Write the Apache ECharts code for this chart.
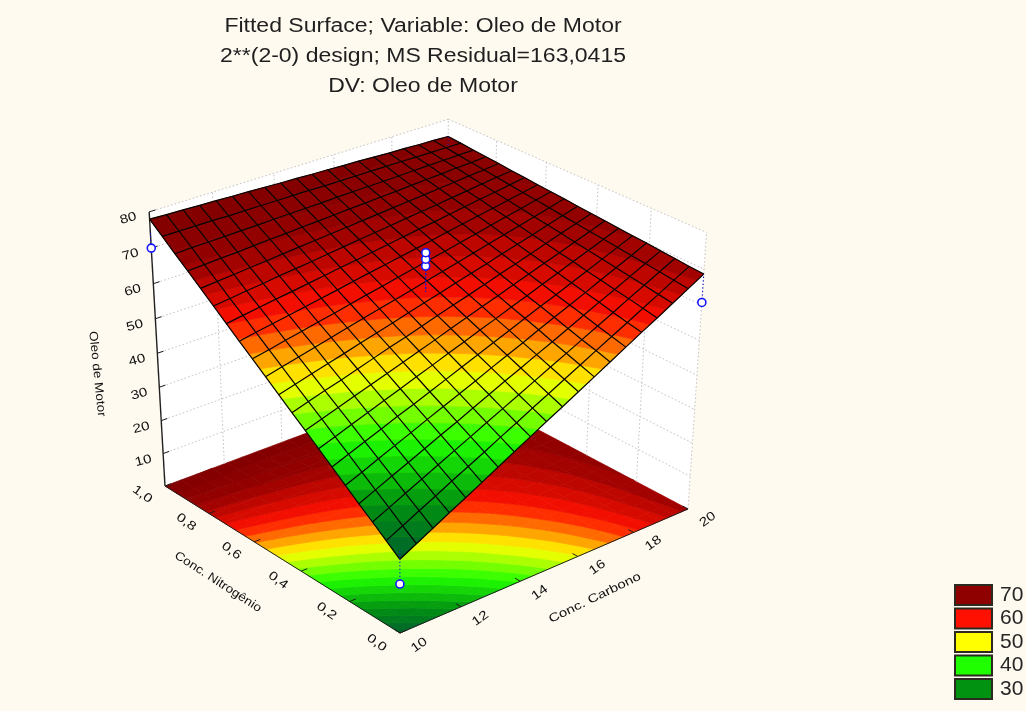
<!DOCTYPE html>
<html><head><meta charset="utf-8">
<style>html,body{margin:0;padding:0;background:#fffaf0}#c{width:1026px;height:711px}</style>
<script src="https://cdn.jsdelivr.net/npm/echarts@6/dist/echarts.min.js"></script>
</head><body><div id="c"></div>
<script>
const titleLines = ['Fitted Surface; Variable: Oleo de Motor','2**(2-0) design; MS Residual=163,0415','DV: Oleo de Motor'];
const carbonTicks = [10,12,14,16,18,20];
const nitrogenTicks = [0,0.2,0.4,0.6,0.8,1.0];
const nitrogenTickLabels = ['0,0','0,2','0,4','0,6','0,8','1,0'];
const oilTicks = [10,20,30,40,50,60,70,80];
const legendLabels = ['70','60','50','40','30'];
const legendColors = ['#8f0000','#ff1000','#ffff00','#20ff00','#009210'];
const bandValues = [20,30,40,50,60,70,80];
const bandColors = ['#005a34','#009010','#20ff00','#ffff00','#ff1000','#950000','#7a0000'];
const pointsCarbon = [10,20,15,15,15,10,20];
const pointsNitrogen = [1,0,0.5,0.5,0.5,0,1];
const pointsOil = [70,60.7,67.9,69.8,71.6,14.3,72.5];
const pointsStemEnd = [75,68.6,60.8,60.8,60.8,24,75];
const pointsHidden = [0,0,0,0,0,0,1];
// fitted surface: one row per nitrogen step (0 → 1), one column per carbon step (10 → 20)
const surfaceRows = [
[21.4,23.9,26.4,28.9,31.3,33.8,36.3,38.8,41.3,43.8,46.2,48.7,51.2,53.7,56.2,58.7,61.1,63.6,66.1,68.6],
[24.4,26.7,29.1,31.4,33.8,36.1,38.4,40.8,43.1,45.5,47.8,50.2,52.5,54.9,57.2,59.5,61.9,64.2,66.6,68.9],
[27.4,29.6,31.8,34.0,36.2,38.4,40.6,42.8,45.0,47.2,49.4,51.6,53.8,56.0,58.2,60.4,62.7,64.9,67.1,69.3],
[30.3,32.4,34.5,36.5,38.6,40.7,42.7,44.8,46.9,49.0,51.0,53.1,55.1,57.2,59.3,61.4,63.4,65.5,67.6,69.6],
[33.3,35.2,37.2,39.1,41.0,43.0,44.9,46.8,48.7,50.7,52.6,54.5,56.5,58.4,60.3,62.2,64.2,66.1,68.0,70.0],
[36.3,38.1,39.9,41.7,43.5,45.2,47.0,48.8,50.6,52.4,54.2,56.0,57.8,59.6,61.3,63.1,64.9,66.7,68.5,70.3],
[39.3,40.9,42.6,44.2,45.9,47.5,49.2,50.8,52.5,54.1,55.8,57.4,59.1,60.7,62.4,64.0,65.7,67.3,69.0,70.6],
[42.3,43.8,45.3,46.8,48.3,49.8,51.3,52.8,54.3,55.9,57.4,58.9,60.4,61.9,63.4,64.9,66.4,67.9,69.4,71.0],
[45.2,46.6,48.0,49.3,50.7,52.1,53.5,54.8,56.2,57.6,59.0,60.3,61.7,63.1,64.4,65.8,67.2,68.6,69.9,71.3],
[48.2,49.4,50.7,51.9,53.1,54.4,55.6,56.8,58.1,59.3,60.5,61.8,63.0,64.2,65.5,66.7,67.9,69.2,70.4,71.6],
[51.2,52.3,53.4,54.5,55.6,56.7,57.8,58.9,59.9,61.0,62.1,63.2,64.3,65.4,66.5,67.6,68.7,69.8,70.9,72.0],
[54.2,55.1,56.1,57.0,58.0,58.9,59.9,60.9,61.8,62.8,63.7,64.7,65.6,66.6,67.5,68.5,69.5,70.4,71.4,72.3],
[57.1,58.0,58.8,59.6,60.4,61.2,62.0,62.9,63.7,64.5,65.3,66.1,66.9,67.8,68.6,69.4,70.2,71.0,71.8,72.6],
[60.1,60.8,61.5,62.2,62.8,63.5,64.2,64.9,65.5,66.2,66.9,67.6,68.3,68.9,69.6,70.3,71.0,71.6,72.3,73.0],
[63.1,63.6,64.2,64.7,65.3,65.8,66.3,66.9,67.4,68.0,68.5,69.0,69.6,70.1,70.6,71.2,71.7,72.3,72.8,73.3],
[66.1,66.5,66.9,67.3,67.7,68.1,68.5,68.9,69.3,69.7,70.1,70.5,70.9,71.3,71.7,72.1,72.5,72.9,73.3,73.7],
[69.1,69.3,69.6,69.8,70.1,70.4,70.6,70.9,71.1,71.4,71.7,71.9,72.2,72.4,72.7,73.0,73.2,73.5,73.7,74.0],
[72.0,72.2,72.3,72.4,72.5,72.6,72.8,72.9,73.0,73.1,73.3,73.4,73.5,73.6,73.7,73.9,74.0,74.1,74.2,74.3],
[75.0,75.0,75.0,75.0,74.9,74.9,74.9,74.9,74.9,74.9,74.8,74.8,74.8,74.8,74.8,74.8,74.7,74.7,74.7,74.7],
[78.0,77.8,77.7,77.5,77.4,77.2,77.1,76.9,76.7,76.6,76.4,76.3,76.1,76.0,75.8,75.6,75.5,75.3,75.2,75.0]
];

/* ---- camera: a projective map from the unit cube to the chart plane ---- */
const CARBON_MIN = 10, CARBON_SPAN = 10, OIL_MAX = 80;
const camFloor = {A:[400,633],B:[688,509],C:[165,486],D:[446,381]};
const camTop = [{p:[0,1],s:[150,214]},{p:[1,0],s:[705,236]},{p:[1,1],s:[449,114]}];
const cam = (function(){
  const {A,B,C,D} = camFloor;
  const dx1=B[0]-D[0],dx2=C[0]-D[0],sx=A[0]-B[0]+D[0]-C[0];
  const dy1=B[1]-D[1],dy2=C[1]-D[1],sy=A[1]-B[1]+D[1]-C[1];
  const den=dx1*dy2-dx2*dy1;
  const g=(sx*dy2-dx2*sy)/den,h=(dx1*sy-sx*dy1)/den;
  const a=B[0]-A[0]+g*B[0],b=C[0]-A[0]+h*C[0],d=A[0];
  const e=B[1]-A[1]+g*B[1],f=C[1]-A[1]+h*C[1],k=A[1];
  const rows=camTop.map(t=>{
    const w0=g*t.p[0]+h*t.p[1]+1;
    return {sx:t.s[0],sy:t.s[1],rx:t.s[0]*w0-(a*t.p[0]+b*t.p[1]+d),ry:t.s[1]*w0-(e*t.p[0]+f*t.p[1]+k)};
  });
  const mean=q=>rows.reduce((s,r)=>s+r[q],0)/rows.length;
  const msx=mean('sx'),msy=mean('sy'),mrx=mean('rx'),mry=mean('ry');
  let nu=0,de=0;
  rows.forEach(r=>{nu+=(r.sx-msx)*(r.rx-mrx)+(r.sy-msy)*(r.ry-mry);de+=(r.sx-msx)**2+(r.sy-msy)**2;});
  const i=-nu/de, cz=mrx+msx*i, fz=mry+msy*i;
  return {a,b,cz,d,e,f,fz,k,g,h,i};
})();
function project(api,X,Y,Z){
  const w=cam.g*X+cam.h*Y+cam.i*Z+1;
  return api.coord([(cam.a*X+cam.b*Y+cam.cz*Z+cam.d)/w,(cam.e*X+cam.f*Y+cam.fz*Z+cam.k)/w]);
}
const nx=c=>(c-CARBON_MIN)/CARBON_SPAN, nz=o=>o/OIL_MAX;
const P=(api,c,n,o)=>project(api,nx(c),n,nz(o));

/* ---- colour bands ---- */
const BAND_STEP = 2.5, BAND_FROM = 17.5, BAND_TO = 82.5;
function hex(s){return [1,3,5].map(i=>parseInt(s.substr(i,2),16));}
function bandColor(v){
  if(v<=bandValues[0])return bandColors[0];
  for(let i=1;i<bandValues.length;i++){
    if(v<=bandValues[i]){
      const t=(v-bandValues[i-1])/(bandValues[i]-bandValues[i-1]);
      const a=hex(bandColors[i-1]),b=hex(bandColors[i]);
      return 'rgb('+a.map((q,j)=>Math.round(q+(b[j]-q)*t)).join(',')+')';
    }
  }
  return bandColors[bandColors.length-1];
}
function clip(poly,limit,keepAbove){
  const out=[];
  for(let i=0;i<poly.length;i++){
    const p=poly[i],q=poly[(i+1)%poly.length];
    const pin=keepAbove?p[2]>=limit:p[2]<=limit, qin=keepAbove?q[2]>=limit:q[2]<=limit;
    if(pin)out.push(p);
    if(pin!==qin){
      const t=(limit-p[2])/(q[2]-p[2]);
      out.push([p[0]+(q[0]-p[0])*t,p[1]+(q[1]-p[1])*t,limit]);
    }
  }
  return out;
}
function cellItem(onFloor){
  return function(params,api){
    const i=api.value(0),j=api.value(1),last=surfaceRows.length-1;
    const x0=i/last,x1=(i+1)/last,y0=j/last,y1=(j+1)/last;
    const poly=[[x0,y0,api.value(2)],[x1,y0,api.value(3)],[x1,y1,api.value(5)],[x0,y1,api.value(4)]];
    const zs=poly.map(p=>p[2]);const zmin=Math.min(...zs),zmax=Math.max(...zs);
    const children=[];
    for(let lo=BAND_FROM;lo<BAND_TO;lo+=BAND_STEP){
      const hi=lo+BAND_STEP;
      if(hi<zmin||lo>zmax)continue;
      let pg=clip(poly,lo,true);
      if(pg.length)pg=clip(pg,hi,false);
      if(pg.length<3)continue;
      const col=bandColor(lo+BAND_STEP/2);
      children.push({type:'polygon',shape:{points:pg.map(p=>project(api,p[0],p[1],onFloor?0:nz(p[2])))},
        style:{fill:col,stroke:col,lineWidth:0.7}});
    }
    return {type:'group',children};
  };
}
const cellData=[];
for(let j=0;j<surfaceRows.length-1;j++)for(let i=0;i<surfaceRows[j].length-1;i++)
  cellData.push([i,j,surfaceRows[j][i],surfaceRows[j][i+1],surfaceRows[j+1][i],surfaceRows[j+1][i+1]]);

const FONT='"Liberation Sans",Arial,sans-serif';
const CUSTOM={type:'custom',coordinateSystem:'cartesian2d',clip:false,silent:true,progressive:0,animation:false};
const txt=(p,text,rotDeg)=>({type:'text',x:p[0],y:p[1],rotation:rotDeg*Math.PI/180,scaleX:1.22,
  style:{text,fontFamily:FONT,fontSize:12.5,fill:'#101010',align:'center',verticalAlign:'middle'}});
const line=(a,b,stroke,lw,dash)=>({type:'line',shape:{x1:a[0],y1:a[1],x2:b[0],y2:b[1]},style:{stroke,lineWidth:lw,lineDash:dash||null}});
const GRID_C='#c4c4c4', GRID_D=[1.6,2.2];

const option={
  animation:false,backgroundColor:'#fffaf0',
  grid:{left:0,top:0,width:1026,height:711,show:false},
  xAxis:{type:'value',min:0,max:1026,show:false},
  yAxis:{type:'value',min:0,max:711,inverse:true,show:false},
  legend:{show:true,orient:'vertical',left:954,top:584,padding:0,itemWidth:37,itemHeight:20,itemGap:1.5,icon:'rect',
    data:legendLabels,selectedMode:false,
    textStyle:{fontFamily:FONT,fontSize:21,lineHeight:20,color:'#262626',padding:[0,0,0,3]}},
  series:[
    {...CUSTOM,name:'walls',z:1,data:[[0,1],[1,0]],renderItem(p,api){
      const a=api.value(0),b=api.value(1);
      return {type:'polygon',shape:{points:[project(api,a,b,0),project(api,1,1,0),project(api,1,1,1),project(api,a,b,1)]},style:{fill:'#ffffff'}};
    }},
    {...CUSTOM,name:'floor',z:2,data:cellData,renderItem:cellItem(true)},
    {...CUSTOM,name:'oilGrid',z:3,data:oilTicks.map(o=>[o,0]),renderItem(p,api){
      const o=api.value(0);
      return {type:'group',children:[line(P(api,10,1,o),P(api,20,1,o),GRID_C,1,GRID_D),line(P(api,20,1,o),P(api,20,0,o),GRID_C,1,GRID_D)]};
    }},
    {...CUSTOM,name:'carbonGrid',z:3,data:carbonTicks.slice(1).map(c=>[c,0]),renderItem(p,api){
      const c=api.value(0);
      return line(P(api,c,1,0),P(api,c,1,80),GRID_C,1,GRID_D);
    }},
    {...CUSTOM,name:'nitrogenGrid',z:3,data:nitrogenTicks.slice(0,-1).map(n=>[n,0]),renderItem(p,api){
      const n=api.value(0);
      return line(P(api,20,n,0),P(api,20,n,80),GRID_C,1,GRID_D);
    }},
    {...CUSTOM,name:'axes',z:4,data:[[0,0]],renderItem(p,api){
      return {type:'group',children:[
        line(P(api,10,0,0),P(api,20,0,0),'#202020',1),
        line(P(api,10,0,0),P(api,10,1,0),'#202020',1),
        line(P(api,10,1,0),P(api,10,1,80),'#202020',1.4)]};
    }},
    {...CUSTOM,name:'carbonTicks',z:4,data:carbonTicks.map(c=>[c,0]),renderItem(p,api){
      const c=api.value(0);
      return {type:'group',children:[line(P(api,c,0,0),P(api,c,0.02,0),'#202020',1),txt(P(api,c,-0.075,0),String(c),36)]};
    }},
    {...CUSTOM,name:'nitrogenTicks',z:4,data:nitrogenTicks.map((n,i)=>[n,i]),renderItem(p,api){
      const n=api.value(0);
      return {type:'group',children:[line(P(api,10,n,0),P(api,10.2,n,0),'#202020',1),txt(P(api,9.25,n,0),nitrogenTickLabels[api.value(1)],-36)]};
    }},
    {...CUSTOM,name:'oilTicks',z:4,data:oilTicks.map(o=>[o,0]),renderItem(p,api){
      const o=api.value(0);
      return {type:'group',children:[line(P(api,10,1,o),P(api,10.2,1,o),'#202020',1),txt(P(api,9.35,1,o),String(o),15)]};
    }},
    {...CUSTOM,name:'hiddenPoints',z:5,data:pointsOil.map((o,i)=>[pointsCarbon[i],pointsNitrogen[i],o,pointsHidden[i]]),renderItem(p,api){
      if(!api.value(3))return {type:'group',children:[]};
      const q=P(api,api.value(0),api.value(1),api.value(2));
      return {type:'circle',shape:{cx:q[0],cy:q[1],r:4},style:{fill:'#fff',stroke:'#1414ff',lineWidth:1.6}};
    }},
    {...CUSTOM,name:'surface',z:6,data:cellData,renderItem:cellItem(false)},
    {...CUSTOM,name:'meshCarbon',z:7,data:surfaceRows.map((r,j)=>[j,0]),renderItem(p,api){
      const j=api.value(0),last=surfaceRows.length-1;
      return {type:'polyline',shape:{points:surfaceRows[j].map((v,i)=>project(api,i/last,j/last,nz(v)))},style:{stroke:'#080400',lineWidth:1.2,fill:null}};
    }},
    {...CUSTOM,name:'meshNitrogen',z:7,data:surfaceRows[0].map((r,i)=>[i,0]),renderItem(p,api){
      const i=api.value(0),last=surfaceRows.length-1;
      return {type:'polyline',shape:{points:surfaceRows.map((row,j)=>project(api,i/last,j/last,nz(row[i])))},style:{stroke:'#080400',lineWidth:1.2,fill:null}};
    }},
    {...CUSTOM,name:'stems',z:8,data:pointsOil.map((o,i)=>[pointsCarbon[i],pointsNitrogen[i],o,pointsStemEnd[i]]),renderItem(p,api){
      const c=api.value(0),n=api.value(1);
      return line(P(api,c,n,api.value(2)),P(api,c,n,api.value(3)),'#1414d8',1.1,[1.2,2.3]);
    }},
    {...CUSTOM,name:'points',z:9,data:pointsOil.map((o,i)=>[pointsCarbon[i],pointsNitrogen[i],o,pointsHidden[i]]),renderItem(p,api){
      if(api.value(3))return {type:'group',children:[]};
      const q=P(api,api.value(0),api.value(1),api.value(2));
      return {type:'circle',shape:{cx:q[0],cy:q[1],r:4},style:{fill:'#fff',stroke:'#1414ff',lineWidth:1.6}};
    }},
    ...legendLabels.map((n,i)=>({type:'bar',name:n,data:[],itemStyle:{color:legendColors[i],borderColor:'#2a2a20',borderWidth:1.5}}))
  ],
  graphic:[
    {type:'text',x:423,y:11,scaleX:1.15,z:20,style:{text:titleLines.join('\n'),fontFamily:FONT,fontSize:20,lineHeight:30,fill:'#1f1f1f',align:'center',verticalAlign:'top'}},
    {type:'text',x:595,y:598,rotation:26*Math.PI/180,scaleX:1.25,z:20,style:{text:'Conc. Carbono',fontFamily:FONT,fontSize:12,fill:'#101010',align:'center',verticalAlign:'middle'}},
    {type:'text',x:218,y:582,rotation:-33*Math.PI/180,scaleX:1.13,z:20,style:{text:'Conc. Nitrogênio',fontFamily:FONT,fontSize:12,fill:'#101010',align:'center',verticalAlign:'middle'}},
    {type:'text',x:97,y:374,rotation:-84*Math.PI/180,scaleX:1.13,z:20,style:{text:'Oleo de Motor',fontFamily:FONT,fontSize:12,fill:'#101010',align:'center',verticalAlign:'middle'}}
  ]
};
const chart=echarts.init(document.getElementById('c'),null,{renderer:'canvas',width:1026,height:711});
chart.setOption(option);
</script>
</body></html>
